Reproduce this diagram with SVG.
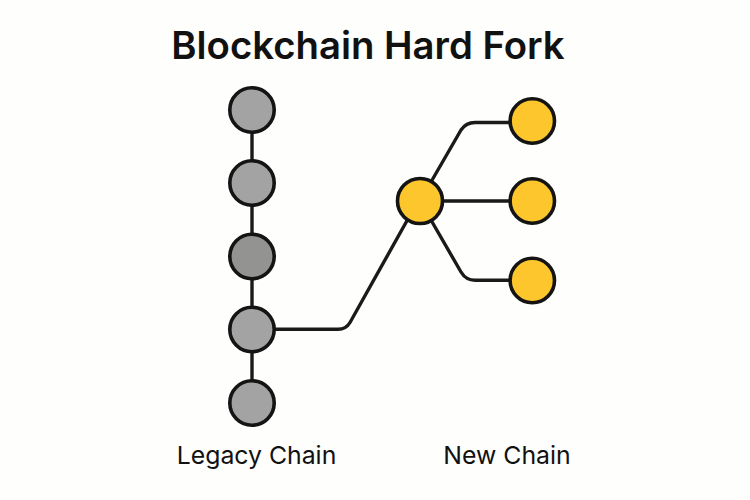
<svg xmlns="http://www.w3.org/2000/svg" width="750" height="500" viewBox="0 0 750 500">
<style>
.e{fill:none;stroke:#1a1a1a;stroke-width:3.4;stroke-linecap:round;stroke-linejoin:round}
.n{stroke:#141414;stroke-width:3.6}
.g{fill:#a3a3a3}
.d{fill:#939391}
.y{fill:#fdc62c}
text{font-family:"Inter","Liberation Sans",sans-serif;fill:#111;text-anchor:middle}
.l{font-size:24.8px}
</style>
<rect width="750" height="500" fill="#fefefc"/>
<text x="368" y="59" font-size="38.3" font-weight="600">Blockchain Hard Fork</text>
<g id="connectors">
<path class="e" d="M252 110V403"/>
<path class="e" d="M252 329.3H338Q346 329.3 350 322.5L418 201"/>
<path class="e" d="M420 201L461 130Q466 122.5 475 122.5H532"/>
<path class="e" d="M420 201H532"/>
<path class="e" d="M420 201L461 272Q466 280.3 475 280.3H532"/>
</g>
<g id="n1"><circle class="n g" cx="252" cy="110" r="22.2"/></g>
<g id="n2"><circle class="n g" cx="252" cy="183" r="22.2"/></g>
<g id="n3"><circle class="n d" cx="252" cy="256.5" r="22.2"/></g>
<g id="n4"><circle class="n g" cx="252" cy="329.5" r="22.2"/></g>
<g id="n5"><circle class="n g" cx="252" cy="403" r="22.2"/></g>
<g id="f"><circle class="n y" cx="420" cy="201" r="22.5"/></g>
<g id="y1"><circle class="n y" cx="532.3" cy="121" r="22.2"/></g>
<g id="y2"><circle class="n y" cx="532.3" cy="201" r="22.2"/></g>
<g id="y3"><circle class="n y" cx="532.3" cy="280.5" r="22.2"/></g>
<g id="legacy-label"><text class="l" x="256.5" y="464">Legacy Chain</text></g>
<g id="new-label"><text class="l" x="507" y="464">New Chain</text></g>
</svg>
